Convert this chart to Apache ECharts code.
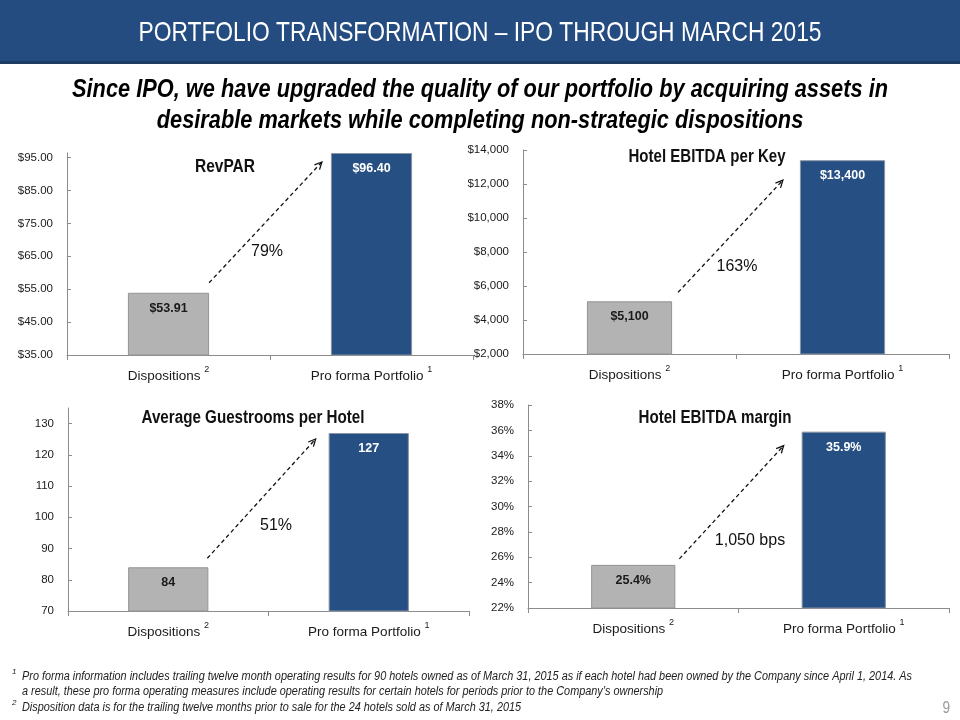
<!DOCTYPE html>
<html><head><meta charset="utf-8">
<script src="https://cdn.jsdelivr.net/npm/echarts@6/dist/echarts.min.js"></script>
<style>html,body{margin:0;padding:0;background:#fff}#c{width:960px;height:720px}</style>
</head><body><div id="c"></div>
<script>
// ---- data ----
const categories = ['Dispositions', 'Pro forma Portfolio'];
const categorySup = ['2', '1'];
const revparValues = [53.91, 96.40];
const ebitdaPerKeyValues = [5100, 13400];
const guestroomsValues = [84, 127];
const ebitdaMarginValues = [25.4, 35.9];
const chartTitles = ['RevPAR', 'Hotel EBITDA per Key', 'Average Guestrooms per Hotel', 'Hotel EBITDA margin'];
const changeLabels = ['79%', '163%', '51%', '1,050 bps'];
const valueLabels = [['$53.91', '$96.40'], ['$5,100', '$13,400'], ['84', '127'], ['25.4%', '35.9%']];
const revparTicks = [35, 96.4, 10];
const ebitdaKeyTicks = [2000, 14000, 2000];
const roomsTicks = [70, 135, 10];
const marginTicks = [22, 38, 2];
const footnotes = [
  'Pro forma information includes trailing twelve month operating results for 90 hotels owned as of March 31, 2015 as if each hotel had been owned by the Company since April 1, 2014. As',
  'a result, these pro forma operating measures include operating results for certain hotels for periods prior to the Company’s ownership',
  'Disposition data is for the trailing twelve months prior to sale for the 24 hotels sold as of March 31, 2015'
];

const SANS = '"Liberation Sans",Arial,sans-serif';
const GRAY = '#b3b3b3', BLUE = '#264f83';

const panels = [
  {vals: revparValues, ticks: revparTicks, fmt: v => '$' + v.toFixed(2), grid: {left: 67, top: 153, width: 406, height: 202}, hideMax: true},
  {vals: ebitdaPerKeyValues, ticks: ebitdaKeyTicks, fmt: v => '$' + v.toLocaleString('en-US'), grid: {left: 523, top: 150, width: 426, height: 204}, hideMax: false},
  {vals: guestroomsValues, ticks: roomsTicks, fmt: v => String(v), grid: {left: 68, top: 408, width: 401, height: 203}, hideMax: true},
  {vals: ebitdaMarginValues, ticks: marginTicks, fmt: v => v + '%', grid: {left: 528, top: 405, width: 421, height: 203}, hideMax: false}
];

const chart = echarts.init(document.getElementById('c'));
const option = {
  animation: false,
  backgroundColor: '#fff',
  grid: panels.map(p => Object.assign({containLabel: false}, p.grid)),
  xAxis: panels.map((p, i) => ({
    type: 'category', gridIndex: i, data: categories,
    axisLine: {lineStyle: {color: '#8c8c8c', width: 1}},
    axisTick: {show: true, length: 5, lineStyle: {color: '#8c8c8c'}},
    axisLabel: {
      interval: 0, margin: 10, color: '#1a1a1a', fontFamily: SANS, fontSize: 13.5,
      formatter: (v, idx) => v + ' {s|' + categorySup[idx] + '}',
      rich: {s: {fontSize: 9, fontFamily: SANS, verticalAlign: 'top', lineHeight: 22, color: '#1a1a1a'}}
    }
  })),
  yAxis: panels.map((p, i) => ({
    type: 'value', gridIndex: i, min: p.ticks[0], max: p.ticks[1], interval: p.ticks[2],
    axisLine: {show: true, lineStyle: {color: '#8c8c8c', width: 1}},
    axisTick: {show: true, inside: true, length: 4, lineStyle: {color: '#8c8c8c'}},
    splitLine: {show: false},
    axisLabel: {margin: 14, color: '#1a1a1a', fontFamily: SANS, fontSize: 11.5, formatter: p.fmt, showMaxLabel: !p.hideMax}
  })),
  series: panels.map((p, i) => ({
    type: 'bar', xAxisIndex: i, yAxisIndex: i, barWidth: '40%',
    data: p.vals.map((v, j) => ({
      value: v,
      itemStyle: {color: j === 0 ? GRAY : BLUE, borderColor: j === 0 ? '#949494' : '#8a94a3', borderWidth: 1},
      label: {color: j === 0 ? '#1a1a1a' : '#ffffff'}
    })),
    label: {show: true, position: 'insideTop', distance: 9, fontFamily: SANS, fontWeight: 'bold', fontSize: 12.5,
      formatter: prm => valueLabels[i][prm.dataIndex]}
  }))
};
chart.setOption(option);

// ---- annotations ----
const ctx = document.createElement('canvas').getContext('2d');
function fit(text, font, target) { ctx.font = font; return target / ctx.measureText(text).width; }
function ntext(x, y, text, font, scale, fill, align) {
  return {type: 'text', x: x, y: y, scaleX: scale, z: 5,
    style: {text: text, fill: fill, font: font, textAlign: align || 'center', textVerticalAlign: 'middle'}};
}
const titlePos = [[225, 167], [707, 157], [253, 418], [715, 418]];
const titleWidths = [60, 157, 223, 153];
const changePos = [[267, 252], [737, 267], [276, 526], [750, 541]];
const g = [];
g.push({type: 'rect', shape: {x: 0, y: 0, width: 960, height: 63}, style: {fill: '#244c80'}, z: 1});
g.push({type: 'rect', shape: {x: 0, y: 61, width: 960, height: 3}, style: {fill: '#1c3c66'}, z: 1});
const TF = '28px ' + SANS;
const titleText = 'PORTFOLIO TRANSFORMATION – IPO THROUGH MARCH 2015';
g.push(ntext(480, 33, titleText, TF, fit(titleText, TF, 683), '#fff'));
const SF = 'italic bold 25px ' + SANS;
const sub1 = 'Since IPO, we have upgraded the quality of our portfolio by acquiring assets in';
const sub2 = 'desirable markets while completing non-strategic dispositions';
const ss = fit(sub1, SF, 816);
g.push(ntext(480, 90, sub1, SF, ss, '#000'));
g.push(ntext(480, 121, sub2, SF, ss, '#000'));
const CF = 'bold 18px ' + SANS;
chartTitles.forEach((t, i) => g.push(ntext(titlePos[i][0], titlePos[i][1], t, CF, fit(t, CF, titleWidths[i]), '#111')));
changeLabels.forEach((t, i) => g.push(ntext(changePos[i][0], changePos[i][1], t, '16px ' + SANS, 1, '#111')));

// arrow offsets (pixels) from bar corners: [startDx, startDy, endDx, endDy]
const arrowOff = [[0, 10, 9, 9], [6, 9, 17, 20], [-1, 9, 13, 6], [4, 6, 18, 14]];
panels.forEach((p, i) => {
  const a = chart.convertToPixel({gridIndex: i}, [0, p.vals[0]]);
  const b = chart.convertToPixel({gridIndex: i}, [1, p.vals[1]]);
  const half = p.grid.width / 2 * 0.4 / 2;
  const o = arrowOff[i];
  const x1 = a[0] + half + o[0], y1 = a[1] - o[1];
  const x2 = b[0] - half - o[2], y2 = b[1] + o[3];
  g.push({type: 'line', shape: {x1, y1, x2, y2}, style: {stroke: '#111', lineWidth: 1.3, lineDash: [4, 3]}});
  const ang = Math.atan2(y2 - y1, x2 - x1), L = 8, w = 0.45;
  g.push({type: 'polyline', shape: {points: [
    [x2 - L * Math.cos(ang - w), y2 - L * Math.sin(ang - w)], [x2, y2], [x2 - L * Math.cos(ang + w), y2 - L * Math.sin(ang + w)]]},
    style: {stroke: '#111', lineWidth: 1.3, fill: null}});
});

const FN = 'italic 12.5px ' + SANS;
const fs = fit(footnotes[0], FN, 890);
g.push({type: 'text', x: 12, y: 668, style: {text: '1', fill: '#222', font: 'italic 8px ' + SANS}});
g.push(ntext(22, 677, footnotes[0], FN, fs, '#222', 'left'));
g.push(ntext(22, 692, footnotes[1], FN, fs, '#222', 'left'));
g.push({type: 'text', x: 12, y: 699, style: {text: '2', fill: '#222', font: 'italic 8px ' + SANS}});
g.push(ntext(22, 708, footnotes[2], FN, fs, '#222', 'left'));
g.push(ntext(950, 708, '9', '17px ' + SANS, 0.8, '#9a9a9a', 'right'));
chart.setOption({graphic: g});
</script></body></html>
